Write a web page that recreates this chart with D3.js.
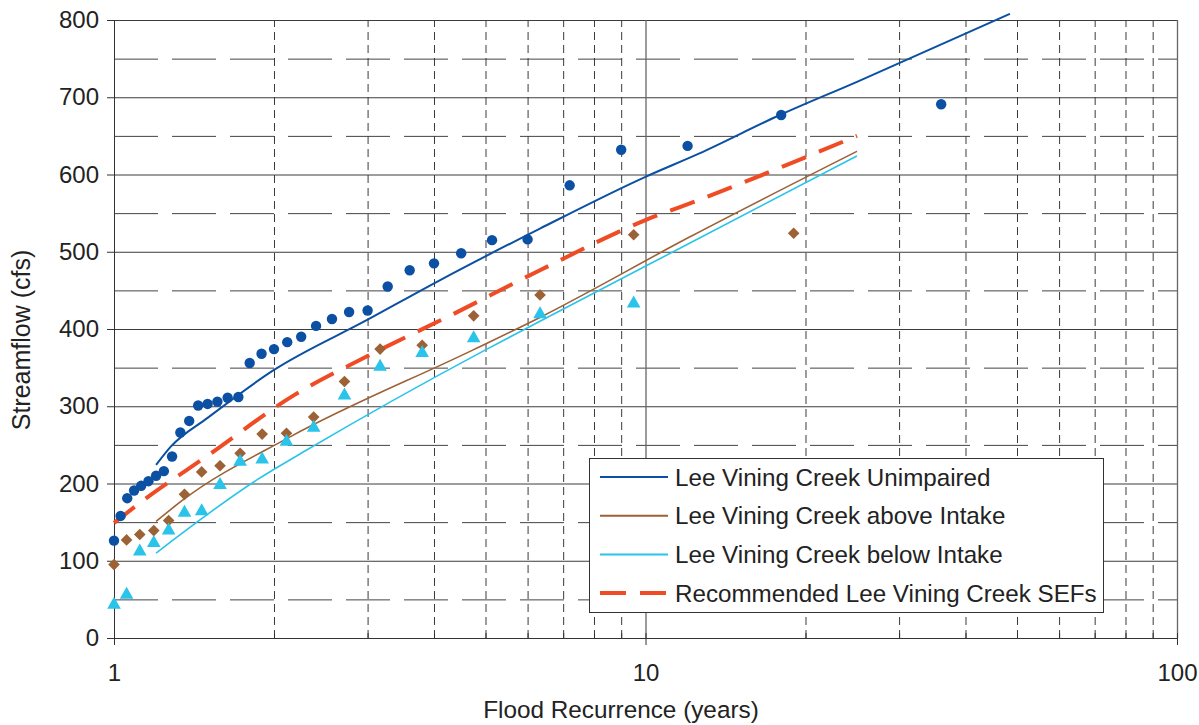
<!DOCTYPE html>
<html>
<head>
<meta charset="utf-8">
<script src="https://cdn.jsdelivr.net/npm/d3@7"></script>
<style>
  body { margin: 0; background: #fff; }
  text { font-family: "Liberation Sans", Arial, sans-serif; fill: #222; }
</style>
</head>
<body>
<script>
var unimpairedObs = [
  [1.000,126],[1.029,158],[1.059,181],[1.091,191],[1.125,197],[1.161,203],
  [1.200,210],[1.241,216],[1.286,235],[1.333,266],[1.385,281],[1.440,301],
  [1.500,303],[1.565,306],[1.636,311],[1.714,312],[1.800,356],[1.895,368],
  [2.000,374],[2.118,383],[2.250,390],[2.400,404],[2.571,413],[2.769,422],
  [3.000,424],[3.273,455],[3.600,476],[4.000,485],[4.500,498],[5.143,515],
  [6.000,516],[7.200,586],[9.000,632],[12.00,637],[18.00,677],[36.00,691]
];
var aboveObs = [
  [1.000,95],[1.056,127],[1.118,134],[1.188,139],[1.267,152],[1.357,186],
  [1.462,215],[1.583,223],[1.727,239],[1.900,264],[2.111,265],[2.375,286],
  [2.714,332],[3.167,374],[3.800,379],[4.750,417],[6.333,444],[9.500,522],
  [19.00,524]
];
var belowObs = [
  [1.000,45],[1.056,58],[1.118,114],[1.188,125],[1.267,141],[1.357,164],
  [1.462,166],[1.583,200],[1.727,230],[1.900,233],[2.111,256],[2.375,274],
  [2.714,316],[3.167,353],[3.800,371],[4.750,390],[6.333,421],[9.500,435]
];

// fitted curves
var unimpairedFit = [[1.2,224],[1.28,248],[1.5,285],[2.0,347],[3.0,412],[4.1,463],
  [6.33,530],[10,597],[12.6,627],[17.9,677],[25,720],[48.5,808]];
var aboveFit = [[1.2,151],[1.35,179],[2.14,260],[4.74,373],[6.33,415],[12.1,519],[25,630]];
var belowFit = [[1.2,110],[1.86,205],[2.3,243],[5.0,373],[6.33,410],[12.1,511],[25,624]];
var sefFit = [[1,149],[1.15,181],[1.5,236],[2.19,315],[3,365],[4.28,417],[6.33,476],
  [10,541],[12.6,567],[25,650]];

var yTicks = [0,100,200,300,400,500,600,700,800];
var yHalf = [50,150,250,350,450,550,650,750];
var xMajor = [1,10,100];
var xMinor = [2,3,4,5,6,7,8,9,20,30,40,50,60,70,80,90];

var blue = "#0b50a3", brown = "#9c6236", cyan = "#2ac3e9", red = "#ef4b24";

var legendItems = [
  {label: "Lee Vining Creek Unimpaired", color: blue, width: 2, dash: null},
  {label: "Lee Vining Creek above Intake", color: brown, width: 2, dash: null},
  {label: "Lee Vining Creek below Intake", color: cyan, width: 2, dash: null},
  {label: "Recommended Lee Vining Creek SEFs", color: red, width: 4, dash: "26,14"}
];

// set the dimensions and margins of the graph
var margin = {top: 20, right: 22, bottom: 87, left: 114},
    width = 1199 - margin.left - margin.right,
    height = 725 - margin.top - margin.bottom;

var svg = d3.select("body")
  .append("svg")
    .attr("width", 1199)
    .attr("height", 725)
  .append("g")
    .attr("transform", "translate(" + margin.left + "," + margin.top + ")");

var x = d3.scaleLog().domain([1, 100]).range([0, width]);
var y = d3.scaleLinear().domain([0, 800]).range([height, 0]);

// grid: dashed half-hundreds
svg.append("g")
  .call(d3.axisLeft(y).tickValues(yHalf).tickSize(-width).tickFormat(""))
  .call(function(g) { g.select(".domain").remove(); })
  .selectAll("line")
    .attr("stroke", "#444")
    .attr("stroke-dasharray", "44,14");

// grid: solid hundreds
svg.append("g")
  .call(d3.axisLeft(y).tickValues(yTicks.slice(1)).tickSize(-width).tickFormat(""))
  .call(function(g) { g.select(".domain").remove(); })
  .selectAll("line")
    .attr("stroke", "#3c3c3c");

// grid: dashed minor years
svg.append("g")
  .attr("transform", "translate(0," + height + ")")
  .call(d3.axisBottom(x).tickValues(xMinor).tickSize(-height).tickFormat(""))
  .call(function(g) { g.select(".domain").remove(); })
  .selectAll("line")
    .attr("stroke", "#3a3a3a")
    .attr("stroke-dasharray", "8,5");

// grid: solid 10 and 100
svg.append("g")
  .attr("transform", "translate(0," + height + ")")
  .call(d3.axisBottom(x).tickValues([10, 100]).tickSize(-height).tickFormat(""))
  .call(function(g) { g.select(".domain").remove(); })
  .selectAll("line")
    .attr("stroke", "#666")
    .attr("stroke-width", 1.3);

// Y axis
var yAxis = svg.append("g")
  .call(d3.axisLeft(y).tickValues(yTicks).tickSize(7).tickPadding(8).tickSizeOuter(0));
yAxis.select(".domain").attr("stroke", "#333");
yAxis.selectAll("line").attr("stroke", "#333");
yAxis.selectAll("text")
  .style("font-family", "Liberation Sans, Arial, sans-serif")
  .style("font-size", "24px")
  .attr("fill", "#222");

// X axis
var xAxis = svg.append("g")
  .attr("transform", "translate(0," + height + ")")
  .call(d3.axisBottom(x).tickValues(xMajor).tickFormat(d3.format("d"))
    .tickSize(7).tickPadding(19).tickSizeOuter(0));
xAxis.select(".domain").attr("stroke", "#333");
xAxis.selectAll("line").attr("stroke", "#333");
xAxis.selectAll("text")
  .style("font-family", "Liberation Sans, Arial, sans-serif")
  .style("font-size", "24px")
  .attr("fill", "#222");

// small inner ticks on x axis
svg.append("g")
  .attr("transform", "translate(0," + height + ")")
  .call(d3.axisBottom(x).tickValues(xMinor.concat(xMajor)).tickSize(-5).tickFormat(""))
  .call(function(g) { g.select(".domain").remove(); })
  .selectAll("line")
    .attr("stroke", "#333");

// lines
var line = d3.line()
  .x(function(d) { return x(d[0]); })
  .y(function(d) { return y(d[1]); })
  .curve(d3.curveMonotoneX);

svg.append("path").datum(unimpairedFit)
  .attr("fill", "none").attr("stroke", blue).attr("stroke-width", 2)
  .attr("d", line);
svg.append("path").datum(aboveFit)
  .attr("fill", "none").attr("stroke", brown).attr("stroke-width", 1.6)
  .attr("d", line);
svg.append("path").datum(belowFit)
  .attr("fill", "none").attr("stroke", cyan).attr("stroke-width", 1.6)
  .attr("d", line);
svg.append("path").datum(sefFit)
  .attr("fill", "none").attr("stroke", red).attr("stroke-width", 4)
  .attr("stroke-dasharray", "26,14")
  .attr("d", line);

// markers
svg.append("g").selectAll("circle")
  .data(unimpairedObs)
  .enter().append("circle")
    .attr("cx", function(d) { return x(d[0]); })
    .attr("cy", function(d) { return y(d[1]); })
    .attr("r", 5.2)
    .attr("fill", blue);

svg.append("g").selectAll("path")
  .data(aboveObs)
  .enter().append("path")
    .attr("d", d3.symbol(d3.symbolSquare, 68))
    .attr("transform", function(d) { return "translate(" + x(d[0]) + "," + y(d[1]) + ") rotate(45)"; })
    .attr("fill", brown);

svg.append("g").selectAll("path")
  .data(belowObs)
  .enter().append("path")
    .attr("d", function(d) {
      var cx = x(d[0]), cy = y(d[1]);
      return "M" + cx + "," + (cy - 6.5) + "L" + (cx + 6.8) + "," + (cy + 5.5) +
             "L" + (cx - 6.8) + "," + (cy + 5.5) + "Z";
    })
    .attr("fill", cyan);

// legend
var legend = svg.append("g")
  .attr("transform", "translate(" + (589 - margin.left) + "," + (458 - margin.top) + ")");
legend.append("rect")
  .attr("x", 0.5).attr("y", 0.5)
  .attr("width", 514).attr("height", 154)
  .attr("fill", "#fff").attr("stroke", "#333");
legendItems.forEach(function(d, i) {
  var ly = 19 + i * 38.7;
  legend.append("line")
    .attr("x1", 11).attr("x2", 79)
    .attr("y1", ly).attr("y2", ly)
    .attr("stroke", d.color).attr("stroke-width", d.width)
    .attr("stroke-dasharray", d.dash);
  legend.append("text")
    .attr("x", 86).attr("y", ly)
    .attr("dy", "0.36em")
    .style("font-size", "24.2px")
    .text(d.label);
});

// axis titles
svg.append("text")
  .attr("x", 621 - margin.left)
  .attr("y", 718 - margin.top)
  .attr("text-anchor", "middle")
  .style("font-size", "24.3px")
  .text("Flood Recurrence (years)");

svg.append("text")
  .attr("transform", "translate(" + (30 - margin.left) + "," + (340 - margin.top) + ") rotate(-90)")
  .attr("text-anchor", "middle")
  .style("font-size", "25px")
  .text("Streamflow (cfs)");
</script>
</body>
</html>
